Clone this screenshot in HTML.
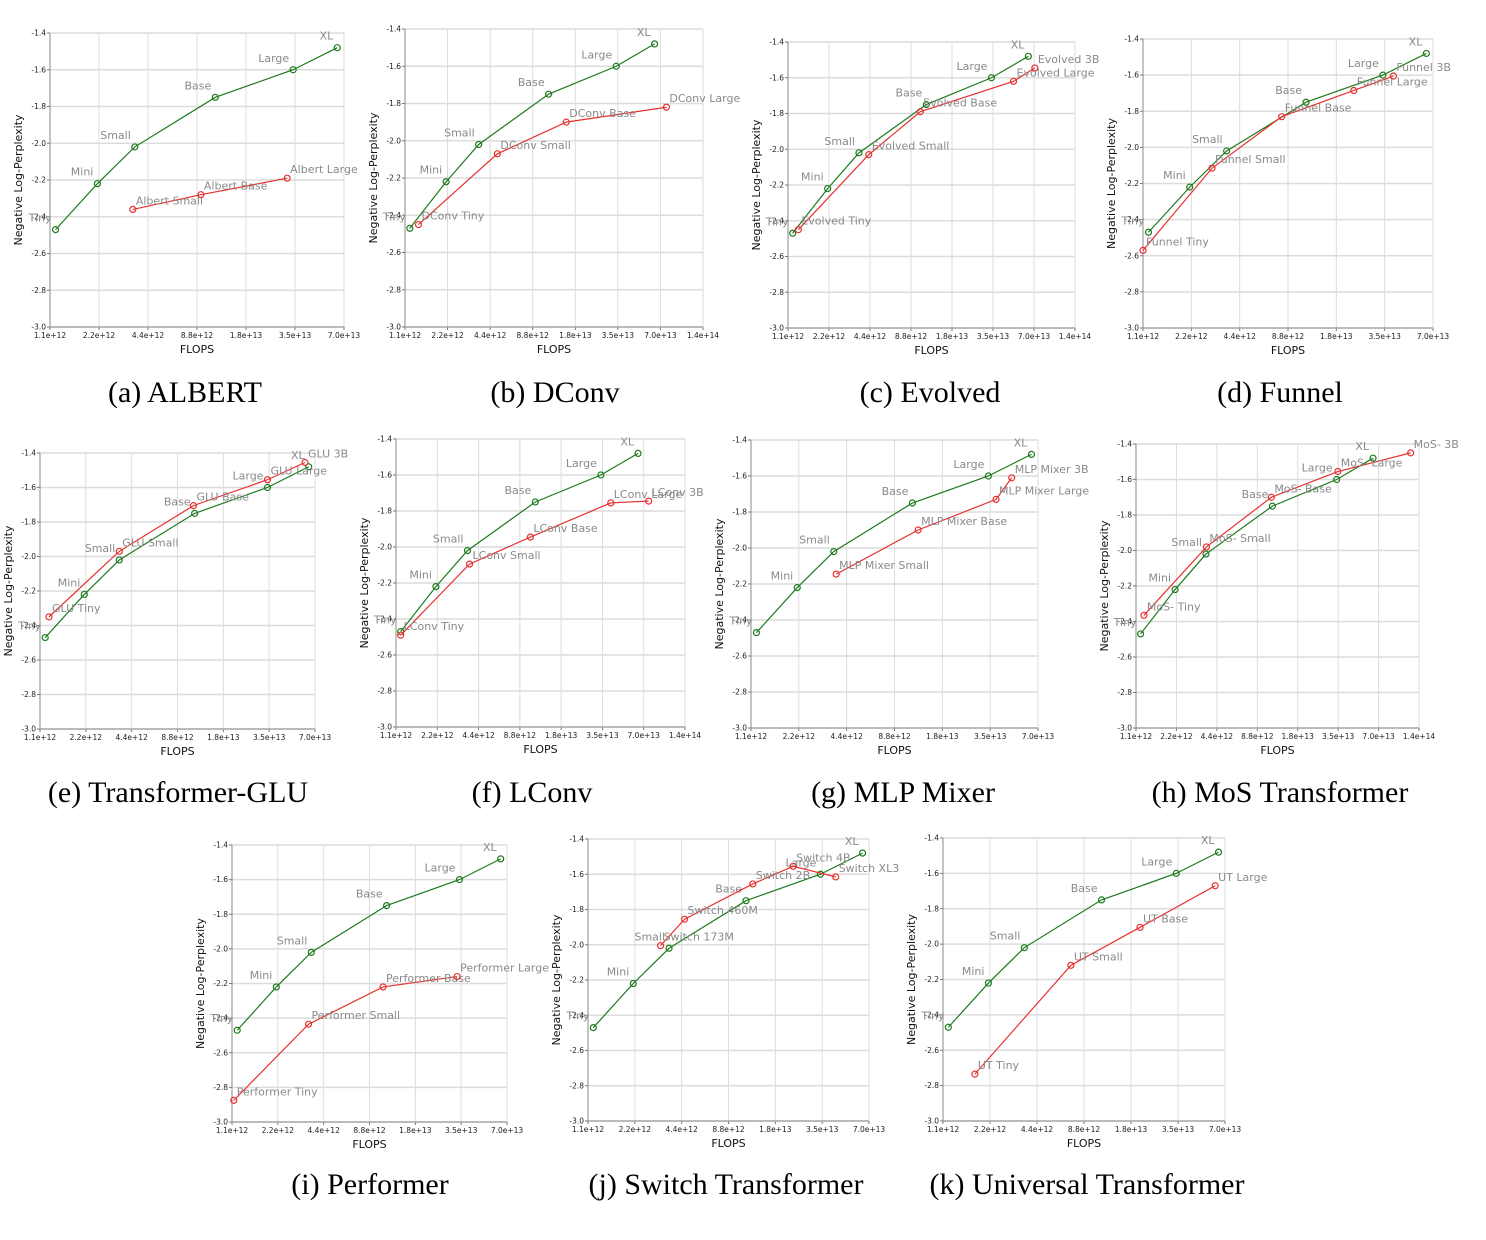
<!DOCTYPE html>
<html><head><meta charset="utf-8"><style>
html,body{margin:0;padding:0;background:#fff;}
svg{display:block;}
.cap{font-family:"Liberation Serif",serif;font-size:30px;fill:#000;}
.tick{font-family:"DejaVu Sans",sans-serif;font-size:7.5px;fill:#222;}
.axt{font-family:"DejaVu Sans",sans-serif;font-size:11px;fill:#111;}
.pl{font-family:"DejaVu Sans",sans-serif;font-size:11px;fill:#8a8a8a;}
</style></head><body>
<svg id="fig" width="1486" height="1240" viewBox="0 0 1486 1240"></svg>
<script>
const xTickLabels=["1.1e+12","2.2e+12","4.4e+12","8.8e+12","1.8e+13","3.5e+13","7.0e+13","1.4e+14"];
const yTickValues=[-1.4,-1.6,-1.8,-2.0,-2.2,-2.4,-2.6,-2.8,-3.0];
const baseNames=["Tiny","Mini","Small","Base","Large","XL"];
const baseFlops=[1.19e12,2.15e12,3.65e12,1.14e13,3.43e13,6.4e13];
const baseScores=[-2.47,-2.22,-2.02,-1.75,-1.60,-1.48];

const albertNames=["Albert Small","Albert Base","Albert Large"];
const albertFlops=[3.55e12,9.3e12,3.15e13];
const albertScores=[-2.36,-2.28,-2.19];
const dconvNames=["DConv Tiny","DConv Small","DConv Base","DConv Large"];
const dconvFlops=[1.37e12,4.95e12,1.52e13,7.76e13];
const dconvScores=[-2.45,-2.07,-1.90,-1.82];
const evolvedNames=["Evolved Tiny","Evolved Small","Evolved Base","Evolved Large","Evolved 3B"];
const evolvedFlops=[1.31e12,4.31e12,1.03e13,4.98e13,7.14e13];
const evolvedScores=[-2.45,-2.03,-1.79,-1.62,-1.545];
const funnelNames=["Funnel Tiny","Funnel Small","Funnel Base","Funnel Large","Funnel 3B"];
const funnelFlops=[1.1e12,2.96e12,8.04e12,2.26e13,3.99e13];
const funnelScores=[-2.57,-2.115,-1.83,-1.685,-1.605];
const gluNames=["GLU Tiny","GLU Small","GLU Base","GLU Large","GLU 3B"];
const gluFlops=[1.26e12,3.65e12,1.12e13,3.43e13,6.05e13];
const gluScores=[-2.35,-1.97,-1.705,-1.555,-1.455];
const lconvNames=["LConv Tiny","LConv Small","LConv Base","LConv Large","LConv 3B"];
const lconvFlops=[1.19e12,3.78e12,1.05e13,4.05e13,7.65e13];
const lconvScores=[-2.49,-2.095,-1.945,-1.755,-1.745];
const mlpNames=["MLP Mixer Small","MLP Mixer Base","MLP Mixer Large","MLP Mixer 3B"];
const mlpFlops=[3.78e12,1.24e13,3.83e13,4.81e13];
const mlpScores=[-2.145,-1.90,-1.73,-1.61];
const mosNames=["MoS- Tiny","MoS- Small","MoS- Base","MoS- Large","MoS- 3B"];
const mosFlops=[1.26e12,3.68e12,1.12e13,3.5e13,1.22e14];
const mosScores=[-2.365,-1.98,-1.70,-1.555,-1.45];
const perfNames=["Performer Tiny","Performer Small","Performer Base","Performer Large"];
const perfFlops=[1.13e12,3.5e12,1.08e13,3.31e13];
const perfScores=[-2.875,-2.435,-2.22,-2.16];
const switchNames=["Switch 173M","Switch 460M","Switch 2B","Switch 4B","Switch XL3"];
const switchFlops=[3.22e12,4.59e12,1.26e13,2.29e13,4.3e13];
const switchScores=[-2.005,-1.855,-1.655,-1.555,-1.615];
const utNames=["UT Tiny","UT Small","UT Base","UT Large"];
const utFlops=[1.76e12,7.25e12,2.01e13,6.09e13];
const utScores=[-2.735,-2.12,-1.905,-1.67];

const NS="http://www.w3.org/2000/svg";
const svg=document.getElementById('fig');
function mk(tag,attrs,parent){const e=document.createElementNS(NS,tag);for(const k in attrs)e.setAttribute(k,attrs[k]);(parent||svg).appendChild(e);return e;}

const panels=[
 {id:"albert",cap:"(a) ALBERT",L:50,R:344,T:33,B:327,n:6,cx:185,cy:392,names:albertNames,fl:albertFlops,sc:albertScores},
 {id:"dconv",cap:"(b) DConv",L:405,R:703,T:29,B:327,n:7,cx:555,cy:392,names:dconvNames,fl:dconvFlops,sc:dconvScores},
 {id:"evolved",cap:"(c) Evolved",L:788,R:1075,T:42,B:328,n:7,cx:930,cy:392,names:evolvedNames,fl:evolvedFlops,sc:evolvedScores},
 {id:"funnel",cap:"(d) Funnel",L:1143,R:1433,T:39,B:328,n:6,cx:1280,cy:392,names:funnelNames,fl:funnelFlops,sc:funnelScores},
 {id:"glu",cap:"(e) Transformer-GLU",L:40,R:315,T:453,B:729,n:6,cx:178,cy:792,names:gluNames,fl:gluFlops,sc:gluScores},
 {id:"lconv",cap:"(f) LConv",L:396,R:685,T:439,B:727,n:7,cx:532,cy:792,names:lconvNames,fl:lconvFlops,sc:lconvScores},
 {id:"mlp",cap:"(g) MLP Mixer",L:751,R:1038,T:440,B:728,n:6,cx:903,cy:792,names:mlpNames,fl:mlpFlops,sc:mlpScores},
 {id:"mos",cap:"(h) MoS Transformer",L:1136,R:1419,T:444,B:728,n:7,cx:1280,cy:792,names:mosNames,fl:mosFlops,sc:mosScores},
 {id:"performer",cap:"(i) Performer",L:232,R:507,T:845,B:1122,n:6,cx:370,cy:1184,names:perfNames,fl:perfFlops,sc:perfScores},
 {id:"switch",cap:"(j) Switch Transformer",L:588,R:869,T:839,B:1121,n:6,cx:726,cy:1184,names:switchNames,fl:switchFlops,sc:switchScores},
 {id:"ut",cap:"(k) Universal Transformer",L:943,R:1225,T:838,B:1121,n:6,cx:1087,cy:1184,names:utNames,fl:utFlops,sc:utScores}
];

panels.forEach(p=>{
 const g=mk('g',{});
 
 
 const step=(p.R-p.L)/p.n;
 const xs=f=>p.L+Math.log2(f/1.1e12)*step;
 const ys=v=>p.T+(-1.4-v)/1.6*(p.B-p.T);
 for(let i=0;i<=p.n;i++){
  const x=p.L+i*step;
  const gl=mk('line',{x1:x,x2:x,y1:p.T,y2:p.B,stroke:'#dcdcdc','stroke-width':1},g);
  
  
  mk('line',{x1:x,x2:x,y1:p.B,y2:p.B+3,stroke:'#777'},g);
  const t=mk('text',{x:x,y:p.B+11,'text-anchor':'middle',class:'tick'},g);
  t.textContent=xTickLabels[i];
  
  
 }
 yTickValues.forEach(v=>{
  const y=ys(v);
  mk('line',{x1:p.L,x2:p.R,y1:y,y2:y,stroke:'#dcdcdc','stroke-width':1.5},g);
  mk('line',{x1:p.L-3,x2:p.L,y1:y,y2:y,stroke:'#777'},g);
  const t=mk('text',{x:p.L-4,y:y+2.5,'text-anchor':'end',class:'tick'},g);
  t.textContent=v.toFixed(1);
  
  
 });
 mk('line',{x1:p.L,x2:p.L,y1:p.T,y2:p.B,stroke:'#888'},g);
 mk('line',{x1:p.L,x2:p.R,y1:p.B,y2:p.B,stroke:'#888'},g);
 const xt=mk('text',{x:(p.L+p.R)/2,y:p.B+26,'text-anchor':'middle',class:'axt'},g);
 xt.textContent='FLOPS';
 
 
 const yx=p.L-28, yy=(p.T+p.B)/2;
 const yt=mk('text',{x:yx,y:yy,'text-anchor':'middle',class:'axt',transform:`rotate(-90 ${yx} ${yy})`},g);
 yt.textContent='Negative Log-Perplexity';
 
 
 function series(names,fl,sc,color,isBase){
  const pts=fl.map((f,i)=>xs(f)+','+ys(sc[i])).join(' ');
  const pl=mk('polyline',{points:pts,fill:'none',stroke:color,'stroke-width':1.2},g);
  
  
  fl.forEach((f,i)=>{
   const x=xs(f),y=ys(sc[i]);
   const c=mk('circle',{cx:x,cy:y,r:3,fill:'none',stroke:color,'stroke-width':1.2},g);
   
   
   const t=mk('text',isBase?{x:x-4,y:y-8,'text-anchor':'end',class:'pl'}:{x:x+3,y:y-5,'text-anchor':'start',class:'pl'},g);
   t.textContent=names[i];
   
   
  });
 }
 series(baseNames,baseFlops,baseScores,'#1d7a1d',true);
 series(p.names,p.fl,p.sc,'#e83030',false);
 const cap=mk('text',{x:p.cx,y:p.cy+10,'text-anchor':'middle',class:'cap'});
 cap.textContent=p.cap;
 
 
});
</script>
</body></html>
